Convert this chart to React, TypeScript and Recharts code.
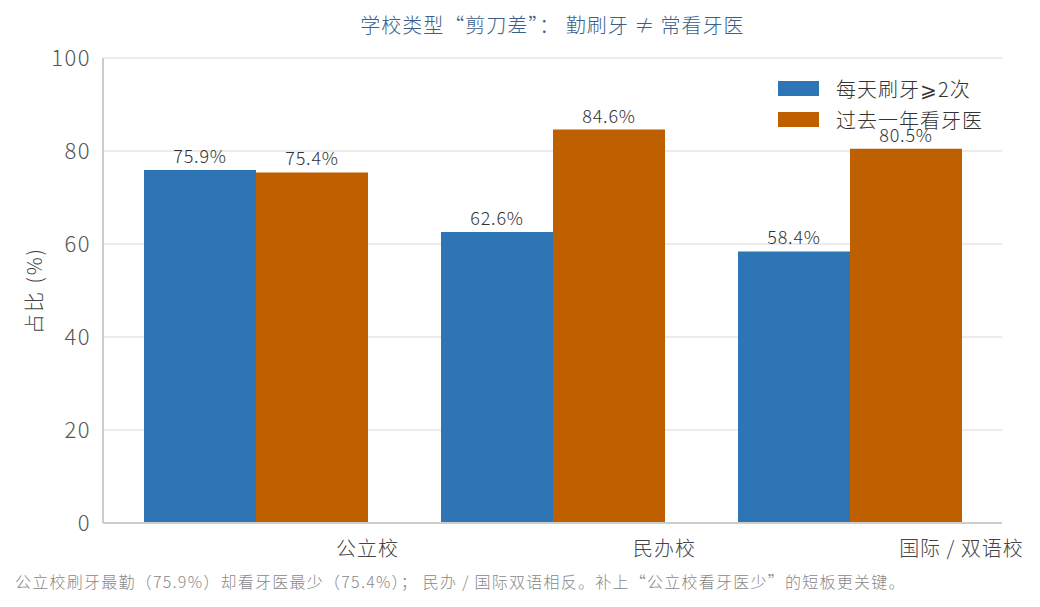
import { Bar, BarChart, CartesianGrid, LabelList, XAxis, YAxis } from "recharts";

const schoolTypes = ["公立校", "民办校", "国际 / 双语校"];
const brushTwice = [75.9, 62.6, 58.4];
const dentistVisit = [75.4, 84.6, 80.5];
const yTicks = [0, 20, 40, 60, 80, 100];

const BLUE = "#2e75b6";
const ORANGE = "#bf6000";
const FONT = '"Noto Sans CJK SC", "Noto Sans", sans-serif';

const rows = schoolTypes.map((name, i) => ({
  name,
  brush: brushTwice[i],
  dentist: dentistVisit[i],
}));

const legendItems = [
  { label: "每天刷牙⩾2次", color: BLUE },
  { label: "过去一年看牙医", color: ORANGE },
];

function CategoryTick(props: any) {
  const { x, y, payload } = props;
  return (
    <text
      x={x + 112}
      y={y + 25}
      textAnchor="middle"
      fill="#444"
      fontSize={20}
      fontWeight={300}
      letterSpacing={1}
      fontFamily={FONT}
    >
      {payload.value}
    </text>
  );
}

function YTitle(props: any) {
  const { viewBox } = props;
  const cx = 33;
  const cy = viewBox.y + viewBox.height / 2;
  return (
    <text
      x={cx}
      y={cy}
      transform={`rotate(-90 ${cx} ${cy})`}
      textAnchor="middle"
      dominantBaseline="central"
      fill="#444"
      fontSize={20}
      fontWeight={300}
      letterSpacing={2}
      fontFamily={FONT}
    >
      占比 (%)
    </text>
  );
}

const valueLabel = {
  position: "top" as const,
  offset: 7,
  formatter: (v: any) => `${v}%`,
  fill: "#333",
  fontSize: 18,
  fontWeight: 300,
  letterSpacing: 0.8,
  fontFamily: FONT,
};

export default function App() {
  return (
    <div style={{ position: "relative", width: 1040, height: 607, margin: -8, background: "#fff", fontFamily: FONT }}>
      <div
        style={{
          position: "absolute",
          top: 10,
          left: 103,
          width: 899,
          textAlign: "center",
          fontSize: 20,
          fontWeight: 300,
          letterSpacing: 1,
          color: "#3b5f8a",
        }}
      >
        学校类型“剪刀差”： 勤刷牙 ≠ 常看牙医
      </div>
      <BarChart
        width={1040}
        height={607}
        data={rows}
        margin={{ top: 58, right: 38, bottom: 44, left: 0 }}
        barCategoryGap={36}
        barGap={0}
      >
        <CartesianGrid vertical={false} stroke="#e6e6e6" strokeWidth={1.5} />
        <XAxis
          dataKey="name"
          height={40}
          padding={{ left: 4, right: 4 }}
          axisLine={{ stroke: "#cccccc", strokeWidth: 2 }}
          tickLine={false}
          tick={<CategoryTick />}
        />
        <YAxis
          width={103}
          domain={[0, 100]}
          ticks={yTicks}
          axisLine={{ stroke: "#cccccc", strokeWidth: 2 }}
          tickLine={false}
          tickMargin={6}
          tick={{ fill: "#555", fontSize: 22, fontWeight: 300, letterSpacing: 1.5, fontFamily: FONT }}
          label={<YTitle />}
        />
        <Bar dataKey="brush" fill={BLUE} barSize={112} isAnimationActive={false}>
          <LabelList dataKey="brush" {...valueLabel} />
        </Bar>
        <Bar dataKey="dentist" fill={ORANGE} barSize={112} isAnimationActive={false}>
          <LabelList dataKey="dentist" {...valueLabel} />
        </Bar>
      </BarChart>
      <div style={{ position: "absolute", top: 73, left: 778 }}>
        {legendItems.map((item) => (
          <div key={item.label} style={{ display: "flex", alignItems: "center", height: 31 }}>
            <span style={{ width: 41, height: 15, background: item.color, display: "inline-block" }} />
            <span style={{ marginLeft: 17, fontSize: 20, fontWeight: 300, letterSpacing: 1, color: "#333" }}>
              {item.label}
            </span>
          </div>
        ))}
      </div>
      <div
        style={{
          position: "absolute",
          top: 569,
          left: 15,
          fontSize: 16,
          fontWeight: 300,
          letterSpacing: 1.25,
          color: "#888",
        }}
      >
        公立校刷牙最勤（75.9%）却看牙医最少（75.4%）； 民办 / 国际双语相反。补上“公立校看牙医少”的短板更关键。
      </div>
    </div>
  );
}
